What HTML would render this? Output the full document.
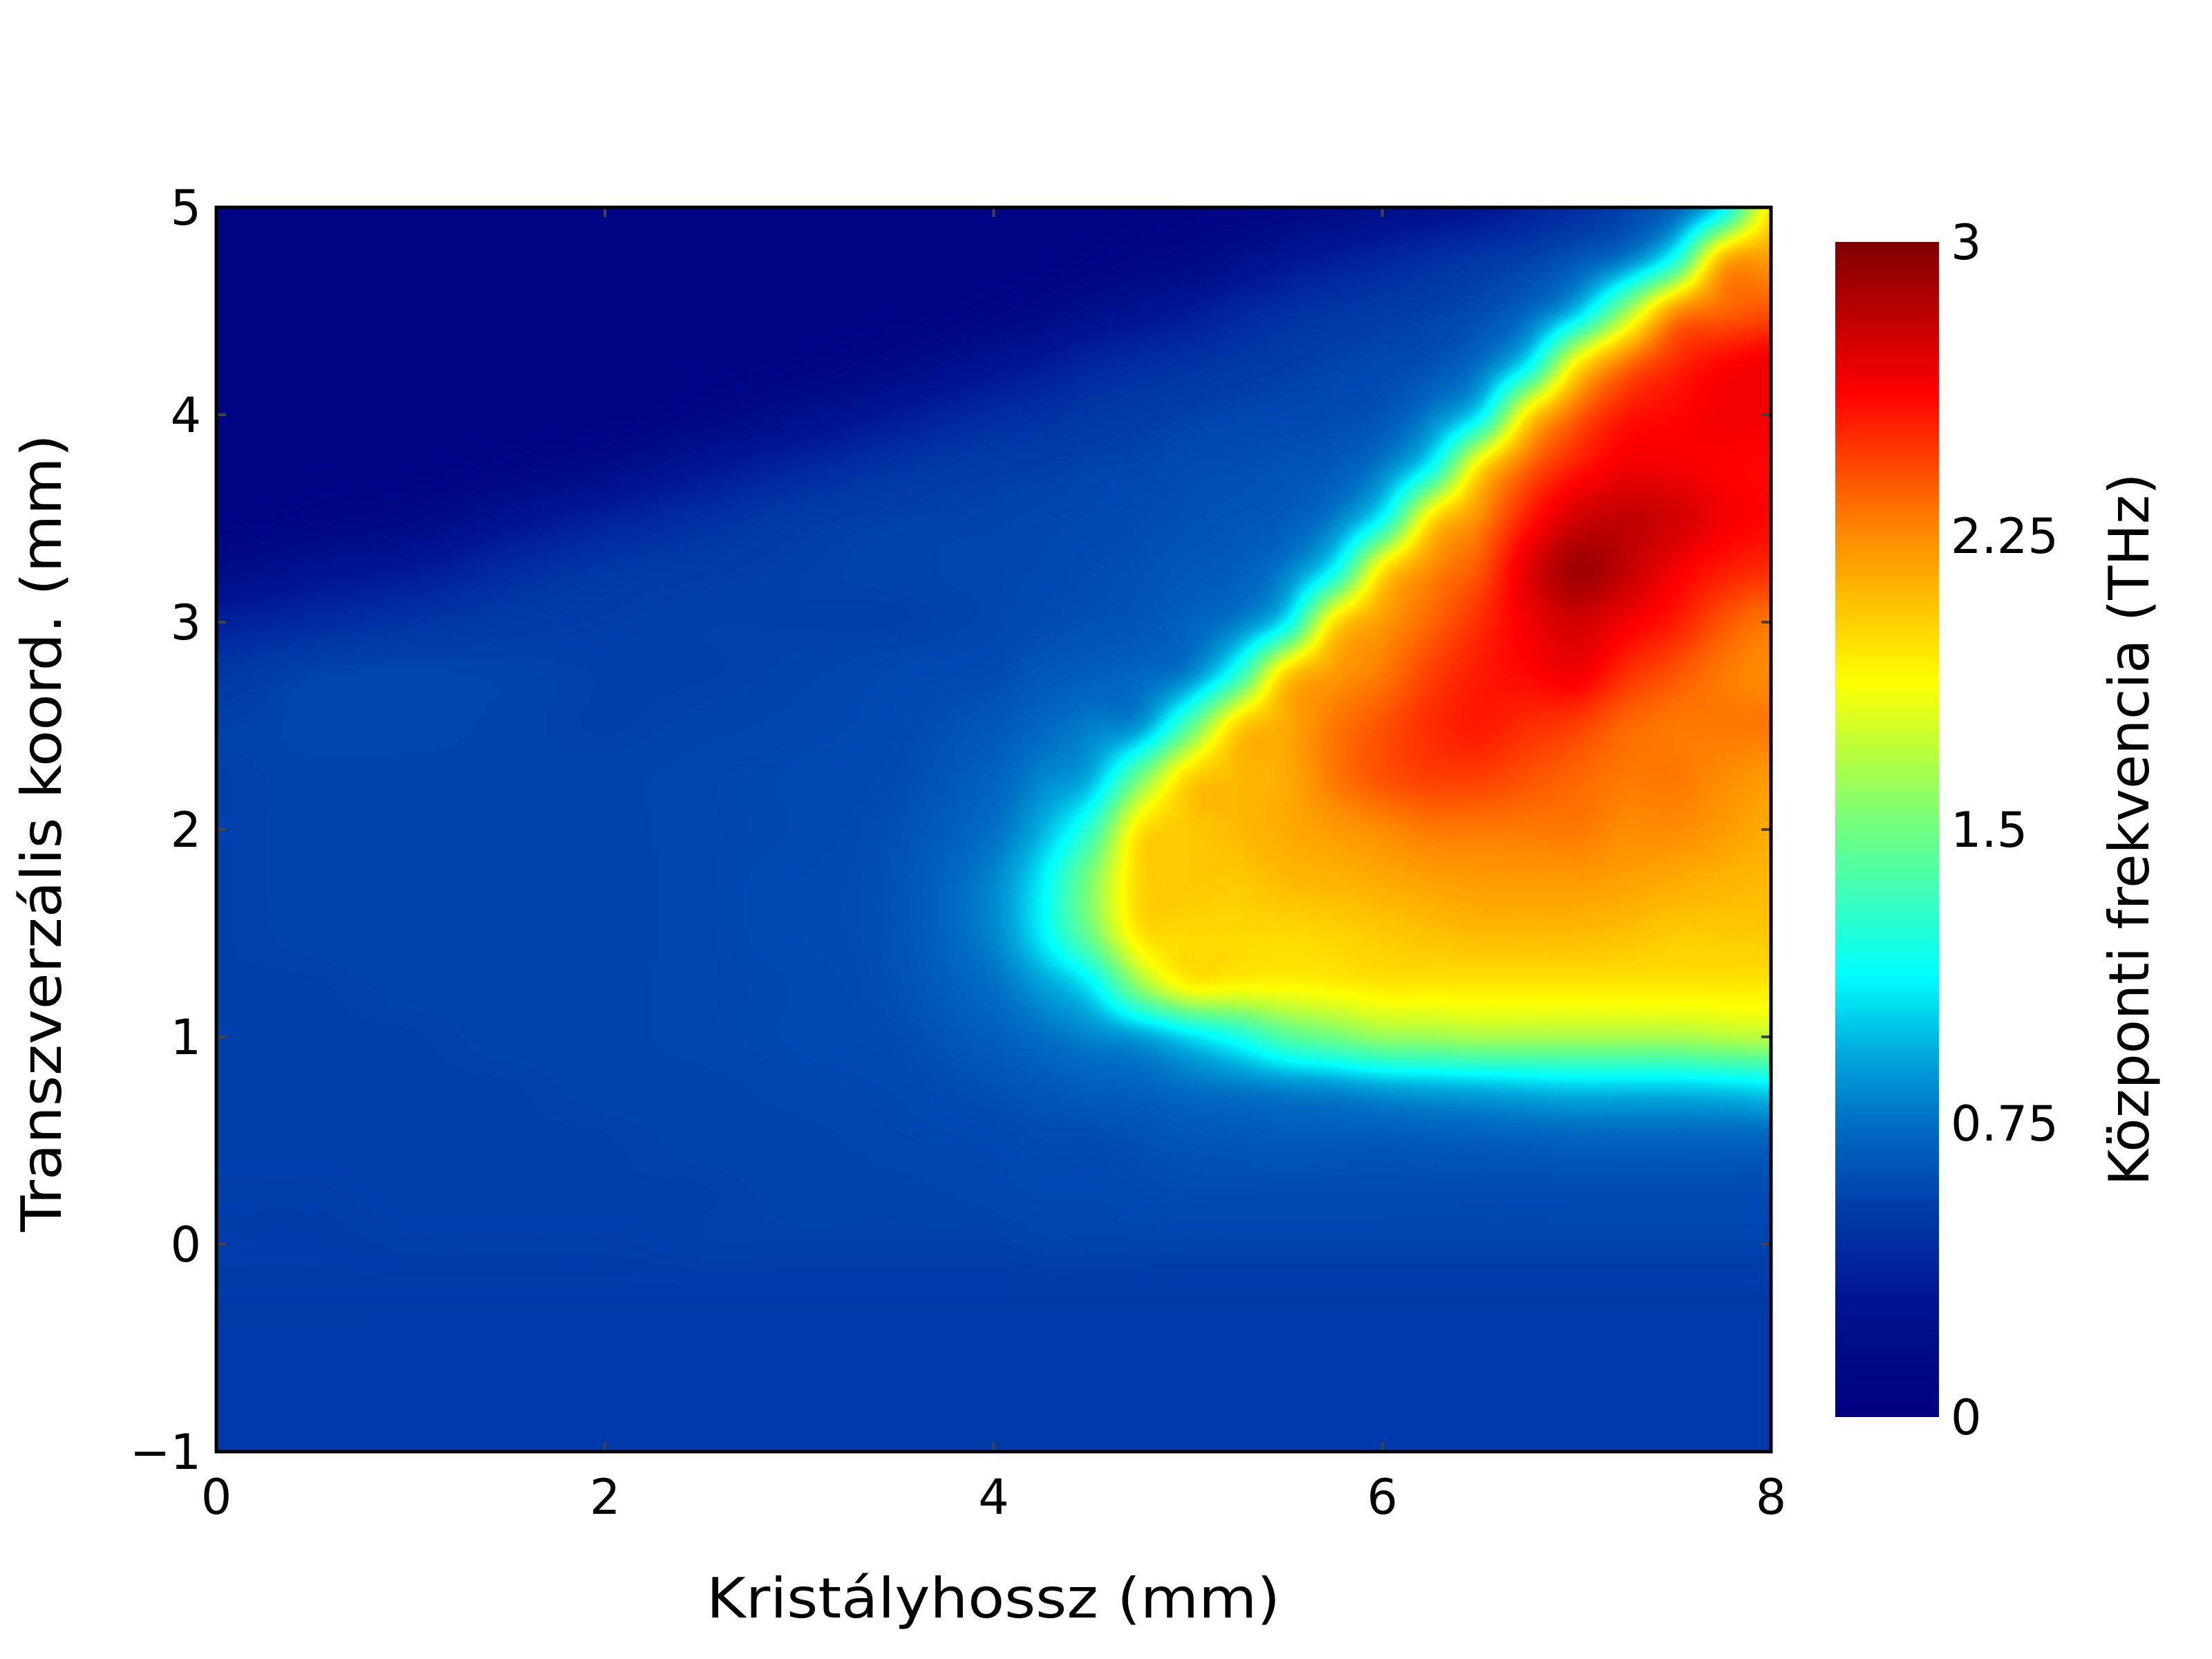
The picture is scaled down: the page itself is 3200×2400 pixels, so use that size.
<!DOCTYPE html>
<html><head><meta charset="utf-8">
<style>
html,body{margin:0;padding:0;background:#fff;}
#wrap{position:relative;width:3200px;height:2400px;overflow:hidden;}
#heat{position:absolute;left:313px;top:300px;width:2249px;height:1800px;}
#cbar{position:absolute;left:2655px;top:350px;width:150px;height:1700px;}
svg{position:absolute;left:0;top:0;}
text{font-family:"DejaVu Sans","Liberation Sans",sans-serif;fill:#000;}
</style></head>
<body>
<div id="wrap">
<canvas id="heat" width="2249" height="1800"></canvas>
<canvas id="cbar" width="150" height="1700"></canvas>
<svg id="ov" width="3200" height="2400">
  <g id="ticks"></g>
  <rect x="313" y="300" width="2249" height="1800" fill="none" stroke="#000" stroke-width="5"/>
  <text x="1437" y="2340" font-size="80" text-anchor="middle" textLength="830" lengthAdjust="spacingAndGlyphs">Kristályhossz (mm)</text>
  <text transform="translate(88,1205) rotate(-90)" font-size="80" text-anchor="middle" textLength="1154" lengthAdjust="spacingAndGlyphs">Transzverzális koord. (mm)</text>
  <text transform="translate(3108,1200) rotate(-90)" font-size="80" text-anchor="middle" textLength="1031" lengthAdjust="spacingAndGlyphs">Központi frekvencia (THz)</text>
</svg>
</div>
<script>
const xTicks=[0,2,4,6,8];
const yTicks=[-1,0,1,2,3,4,5];
const cTicks=[0,0.75,1.5,2.25,3];
const cTickLabels=["0","0.75","1.5","2.25","3"];
const xCoords=[0,0.5,1,1.5,2,2.5,3,3.5,4,4.25,4.5,4.75,5,5.25,5.5,5.75,6,6.25,6.5,6.75,7,7.25,7.5,7.75,8];
const yCoords=[5,4.75,4.5,4.25,4,3.75,3.5,3.25,3,2.75,2.5,2.25,2,1.75,1.5,1.25,1,0.75,0.5,0.25,0,-0.25,-0.5,-0.75,-1];
// each row = one x column, values along yCoords (THz)
const freqByX=[
[.05,.05,.05,.05,.05,.05,.05,.18,.37,.5,.55,.55,.55,.55,.55,.55,.55,.55,.55,.54,.53,.52,.51,.51,.51],
[.05,.05,.05,.05,.05,.05,.1,.27,.43,.56,.57,.56,.56,.56,.56,.55,.55,.55,.55,.54,.53,.52,.51,.51,.51],
[.05,.05,.05,.05,.05,.05,.15,.33,.48,.57,.57,.56,.56,.56,.56,.56,.55,.55,.55,.55,.54,.52,.51,.51,.51],
[.05,.05,.05,.05,.05,.1,.27,.43,.52,.56,.56,.56,.56,.56,.56,.56,.56,.55,.55,.55,.54,.52,.51,.51,.51],
[.05,.05,.05,.05,.05,.18,.37,.5,.54,.55,.55,.56,.56,.56,.56,.56,.56,.56,.55,.55,.54,.52,.51,.51,.51],
[.05,.05,.05,.05,.12,.3,.45,.53,.55,.55,.56,.57,.57,.57,.57,.57,.57,.56,.56,.55,.55,.52,.51,.51,.51],
[.05,.05,.05,.08,.22,.4,.52,.55,.55,.56,.57,.58,.58,.59,.59,.58,.58,.57,.56,.56,.55,.52,.51,.51,.51],
[.05,.05,.05,.15,.33,.48,.55,.56,.55,.58,.59,.6,.62,.63,.63,.62,.6,.58,.57,.56,.55,.52,.51,.51,.51],
[.05,.05,.1,.27,.43,.53,.56,.57,.57,.6,.65,.7,.75,.82,.82,.75,.68,.62,.58,.57,.55,.52,.51,.51,.51],
[.05,.05,.15,.33,.46,.54,.57,.58,.6,.65,.72,.82,.95,1.1,1.1,.9,.75,.65,.6,.58,.56,.52,.51,.51,.51],
[.05,.08,.22,.4,.5,.56,.58,.6,.62,.68,.8,.95,1.3,1.55,1.5,1.1,.82,.68,.6,.58,.56,.52,.51,.51,.51],
[.06,.12,.27,.44,.52,.57,.6,.62,.64,.72,.88,1.5,1.95,2.0,1.95,1.6,.9,.7,.62,.59,.56,.52,.51,.51,.51],
[.07,.15,.33,.47,.55,.6,.62,.65,.7,.82,1.4,2.0,2.05,2.05,2.0,1.9,1.05,.75,.64,.6,.56,.52,.51,.51,.51],
[.09,.22,.4,.5,.57,.61,.64,.68,.8,1.25,2.0,2.1,2.1,2.05,2.0,1.9,1.2,.78,.65,.6,.56,.52,.51,.51,.51],
[.12,.3,.45,.53,.58,.63,.67,.8,1.1,2.0,2.15,2.15,2.15,2.1,2.0,1.9,1.4,.82,.66,.6,.56,.52,.51,.51,.51],
[.17,.35,.49,.56,.6,.66,.8,1.15,1.95,2.2,2.3,2.3,2.2,2.12,2.02,1.92,1.5,.85,.66,.6,.56,.52,.51,.51,.51],
[.22,.4,.52,.58,.64,.8,1.15,1.95,2.2,2.3,2.4,2.4,2.25,2.15,2.05,1.95,1.6,.9,.66,.6,.56,.52,.51,.51,.51],
[.26,.45,.55,.62,.8,1.15,1.95,2.25,2.35,2.45,2.5,2.45,2.3,2.18,2.08,1.95,1.62,.93,.67,.6,.56,.52,.51,.51,.51],
[.3,.5,.6,.75,1.1,1.95,2.25,2.4,2.5,2.55,2.55,2.45,2.3,2.2,2.1,1.95,1.65,.95,.68,.6,.56,.52,.51,.51,.51],
[.38,.55,.72,1.1,1.95,2.35,2.55,2.7,2.65,2.6,2.5,2.4,2.3,2.2,2.1,1.95,1.65,.98,.69,.6,.56,.52,.51,.51,.51],
[.45,.65,1.0,1.9,2.35,2.55,2.75,2.9,2.75,2.65,2.45,2.35,2.3,2.2,2.1,1.95,1.65,1.0,.7,.6,.56,.52,.51,.51,.51],
[.55,.8,1.6,2.3,2.55,2.65,2.8,2.8,2.65,2.5,2.35,2.3,2.25,2.18,2.08,1.95,1.65,1.0,.7,.6,.56,.52,.51,.51,.51],
[.7,1.2,2.2,2.5,2.6,2.65,2.75,2.65,2.55,2.4,2.3,2.3,2.25,2.15,2.05,1.95,1.65,1.0,.7,.6,.56,.52,.51,.51,.51],
[1.1,2.1,2.35,2.6,2.65,2.62,2.65,2.55,2.4,2.3,2.3,2.25,2.2,2.12,2.05,1.95,1.68,1.02,.7,.6,.56,.52,.51,.51,.51],
[1.95,2.2,2.4,2.65,2.65,2.6,2.6,2.5,2.3,2.25,2.3,2.2,2.15,2.1,2.05,1.95,1.7,1.05,.7,.6,.56,.52,.51,.51,.51]
];
const PX0=313,PX1=2562,PY0=300,PY1=2100;
const X0=0,X1=8,Y0=-1,Y1=5,VMIN=0,VMAX=3;
function sx(x){return PX0+(x-X0)/(X1-X0)*(PX1-PX0);}
function sy(y){return PY1-(y-Y0)/(Y1-Y0)*(PY1-PY0);}
const stops=[[0,[0,0,128]],[0.1,[0,20,145]],[0.18,[0,62,172]],[0.25,[0,110,195]],[0.31,[0,170,222]],[0.376,[0,255,255]],[0.5,[110,255,130]],[0.626,[255,255,0]],[0.75,[255,140,0]],[0.872,[255,0,0]],[1,[128,0,0]]];
function cmap(t){t=Math.max(0,Math.min(1,t));
 for(let i=1;i<stops.length;i++){if(t<=stops[i][0]){const a=stops[i-1],b=stops[i];const f=(t-a[0])/(b[0]-a[0]);
 return [a[1][0]+f*(b[1][0]-a[1][0]),a[1][1]+f*(b[1][1]-a[1][1]),a[1][2]+f*(b[1][2]-a[1][2])];}}return stops[stops.length-1][1];}
function cr(p0,p1,p2,p3,t){return 0.5*((2*p1)+(-p0+p2)*t+(2*p0-5*p1+4*p2-p3)*t*t+(-p0+3*p1-3*p2+p3)*t*t*t);}
function V(i,j){i=Math.max(0,Math.min(xCoords.length-1,i));j=Math.max(0,Math.min(yCoords.length-1,j));return freqByX[i][j];}
function sample(x,y){
 let i=0;while(i<xCoords.length-2&&x>xCoords[i+1])i++;
 let j=0;while(j<yCoords.length-2&&y<yCoords[j+1])j++;
 const fx=Math.max(0,Math.min(1,(x-xCoords[i])/(xCoords[i+1]-xCoords[i])));
 const fy=Math.max(0,Math.min(1,(y-yCoords[j])/(yCoords[j+1]-yCoords[j])));
 const r=[];
 for(let k=-1;k<=2;k++){r.push(cr(V(i-1,j+k),V(i,j+k),V(i+1,j+k),V(i+2,j+k),fx));}
 let v=cr(r[0],r[1],r[2],r[3],fy);
 const lo=Math.min(V(i,j),V(i+1,j),V(i,j+1),V(i+1,j+1)),hi=Math.max(V(i,j),V(i+1,j),V(i,j+1),V(i+1,j+1));
 return Math.max(lo,Math.min(hi,v));}
(function(){
 const cv=document.getElementById('heat'),ctx=cv.getContext('2d');
 const W=cv.width,H=cv.height,img=ctx.createImageData(W,H);
 for(let py=0;py<H;py++){const y=Y1-(py+0.5)/H*(Y1-Y0);
  for(let px=0;px<W;px++){const x=X0+(px+0.5)/W*(X1-X0);
   const c=cmap((sample(x,y)-VMIN)/(VMAX-VMIN));const k=(py*W+px)*4;
   img.data[k]=c[0];img.data[k+1]=c[1];img.data[k+2]=c[2];img.data[k+3]=255;}}
 ctx.putImageData(img,0,0);
 const cb=document.getElementById('cbar'),cc=cb.getContext('2d');
 for(let py=0;py<cb.height;py++){const c=cmap(1-py/(cb.height-1));cc.fillStyle='rgb('+c.map(Math.round).join(',')+')';cc.fillRect(0,py,cb.width,1);}
 const ns='http://www.w3.org/2000/svg',g=document.getElementById('ticks'),ov=document.getElementById('ov');
 xTicks.forEach(function(t){const X=sx(t);
  [[PY1,PY1-14],[PY0,PY0+14]].forEach(function(p){const l=document.createElementNS(ns,'line');
   l.setAttribute('x1',X);l.setAttribute('x2',X);l.setAttribute('y1',p[0]);l.setAttribute('y2',p[1]);
   l.setAttribute('stroke','#444');l.setAttribute('stroke-width','4');
   
   
   g.appendChild(l);});
  const tx=document.createElementNS(ns,'text');tx.setAttribute('x',X);tx.setAttribute('y',2190);
  tx.setAttribute('font-size','70');tx.setAttribute('text-anchor','middle');tx.textContent=String(t);
  
  
  ov.appendChild(tx);});
 yTicks.forEach(function(t){const Y=sy(t);
  [[PX0,PX0+14],[PX1,PX1-14]].forEach(function(p){const l=document.createElementNS(ns,'line');
   l.setAttribute('x1',p[0]);l.setAttribute('x2',p[1]);l.setAttribute('y1',Y);l.setAttribute('y2',Y);
   l.setAttribute('stroke','#444');l.setAttribute('stroke-width','4');
   
   
   g.appendChild(l);});
  const tx=document.createElementNS(ns,'text');tx.setAttribute('x',291);tx.setAttribute('y',Y+25);
  tx.setAttribute('font-size','70');tx.setAttribute('text-anchor','end');tx.textContent=t<0?'\u2212'+(-t):String(t);
  
  
  ov.appendChild(tx);});
 cTicks.forEach(function(t,i){const Y=2050-(t-VMIN)/(VMAX-VMIN)*1700;
  const tx=document.createElementNS(ns,'text');tx.setAttribute('x',2822);tx.setAttribute('y',Y+25);
  tx.setAttribute('font-size','70');tx.textContent=cTickLabels[i];
  
  
  ov.appendChild(tx);});
})();
</script>
</body></html>
